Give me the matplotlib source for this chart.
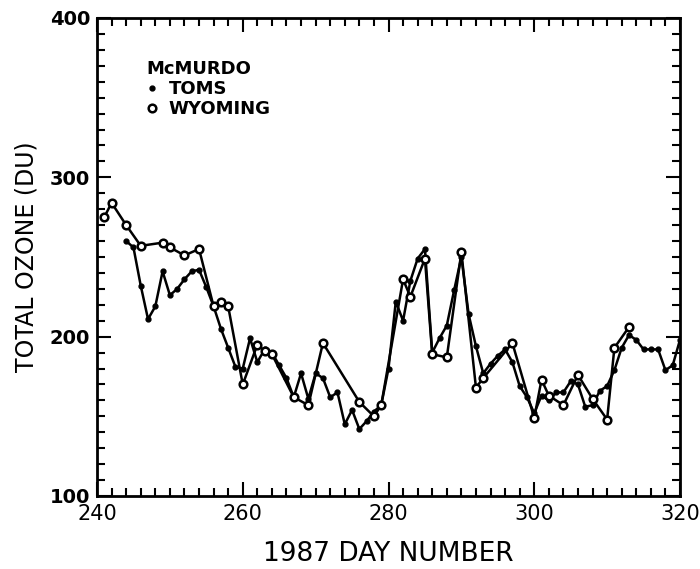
import matplotlib
matplotlib.use("Agg")

import matplotlib.pyplot as plt
from matplotlib.lines import Line2D
from matplotlib.ticker import MultipleLocator

# TOMS daily totals (filled dots)
toms_day = list(range(244, 321))
toms_du = [260, 256, 232, 211, 219, 241, 226, 230, 236, 241,
           242, 231, 219, 205, 193, 181, 180, 199, 184, 192,
           190, 182, 174, 162, 177, 161, 177, 174, 162, 165,
           145, 154, 142, 147, 153, 157, 180, 222, 210, 235,
           249, 255, 190, 199, 207, 229, 250, 214, 194, 177,
           183, 188, 192, 184, 169, 162, 152, 163, 160, 165,
           165, 172, 170, 156, 157, 166, 169, 179, 193, 201,
           198, 192, 192, 192, 179, 182, 198]

# Wyoming ozonesondes (open circles)
wyo_day = [241, 242, 244, 246, 249, 250, 252, 254, 256, 257,
           258, 260, 262, 263, 264, 267, 269, 271, 276, 278,
           279, 282, 283, 285, 286, 288, 290, 292, 293, 297,
           300, 301, 302, 304, 306, 308, 310, 311, 313]
wyo_du = [275, 284, 270, 257, 259, 256, 251, 255, 219, 222,
          219, 170, 195, 191, 189, 162, 157, 196, 159, 150,
          157, 236, 225, 249, 189, 187, 253, 168, 174, 196,
          149, 173, 163, 157, 176, 161, 148, 193, 206]

fig = plt.figure(figsize=(7, 5.69), dpi=100)
ax = fig.add_axes([0.1386, 0.1283, 0.8328, 0.8401])

ax.plot(toms_day, toms_du, color="black", lw=1.8, marker="o", ms=3.5,
        mfc="black", mec="black")
ax.plot(wyo_day, wyo_du, color="black", lw=1.8, marker="o", ms=5.5,
        mfc="white", mec="black", mew=1.8)

ax.set_xlim(240, 320)
ax.set_ylim(100, 400)
ax.xaxis.set_major_locator(MultipleLocator(20))
ax.xaxis.set_minor_locator(MultipleLocator(2))
ax.yaxis.set_major_locator(MultipleLocator(100))
ax.yaxis.set_minor_locator(MultipleLocator(10))
ax.tick_params(which="both", direction="in", top=True, right=True, width=1.5)
ax.tick_params(which="major", length=10)
ax.tick_params(which="minor", length=6)
ax.tick_params(axis="x", labelsize=15, pad=6)
ax.tick_params(axis="y", labelsize=14, pad=5)
for lab in ax.get_yticklabels():
    lab.set_fontweight("bold")
for s in ax.spines.values():
    s.set_linewidth(2)

ax.set_xlabel("1987 DAY NUMBER", fontsize=19, labelpad=12)
ax.set_ylabel("TOTAL OZONE (DU)", fontsize=17, labelpad=8)

handles = [
    Line2D([], [], ls="none", marker="o", ms=3.5, color="black"),
    Line2D([], [], ls="none", marker="o", ms=5.5, mfc="white", mec="black", mew=1.8),
]
ax.legend(handles, ["TOMS", "WYOMING"], title="McMURDO", loc="upper left",
          bbox_to_anchor=(0.07, 0.93), frameon=False, handlelength=0.6,
          handletextpad=0.6, labelspacing=0.1, borderpad=0, alignment="left",
          prop={"size": 13, "weight": "bold"},
          title_fontproperties={"size": 13, "weight": "bold"})

fig.savefig("out.png", dpi=100)
